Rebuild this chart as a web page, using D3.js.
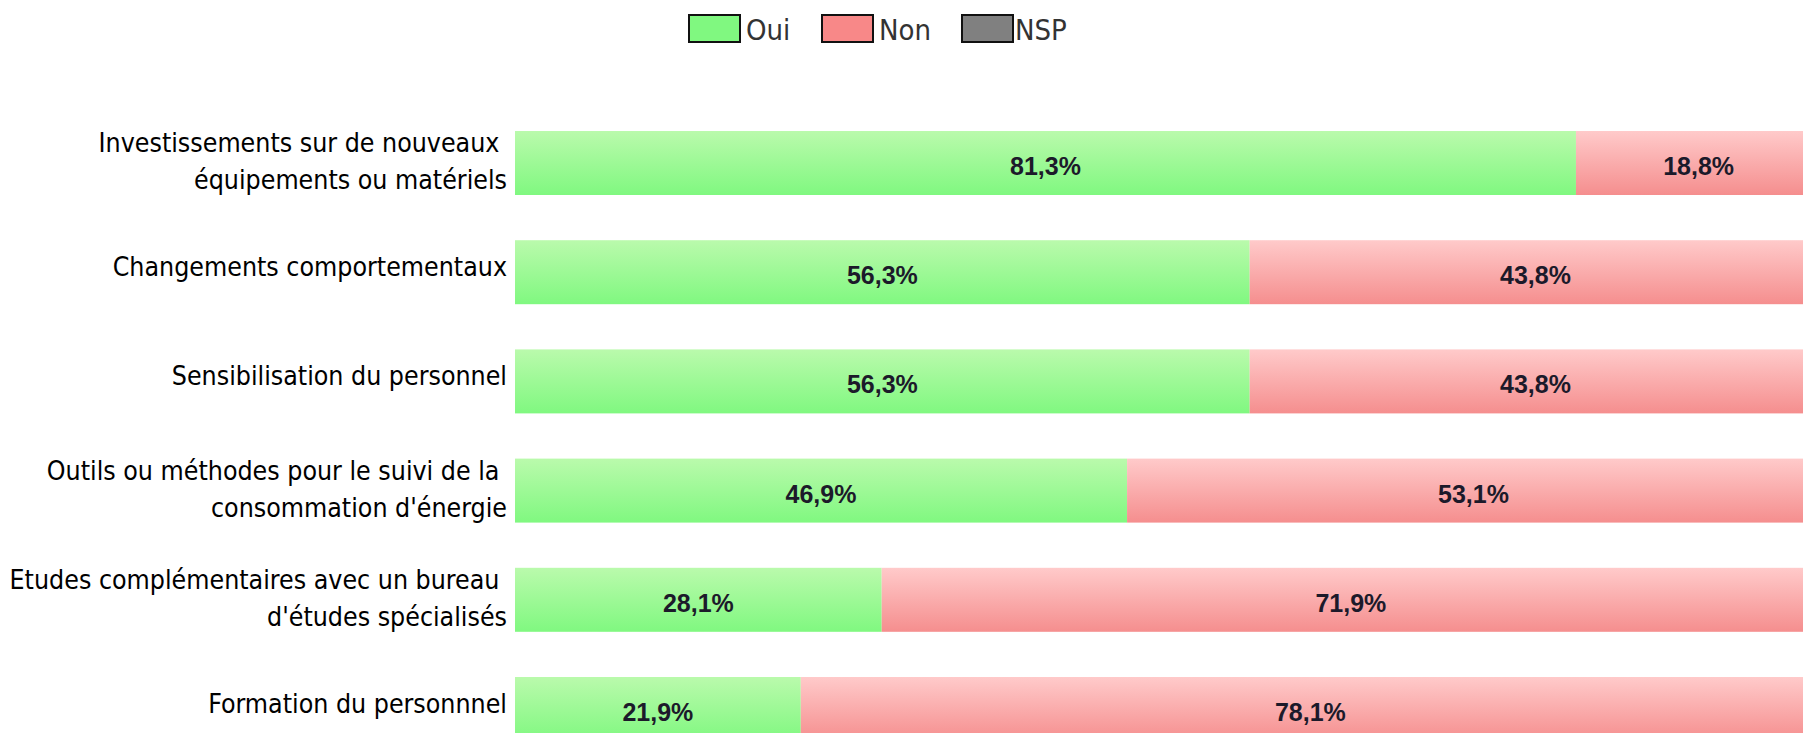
<!DOCTYPE html>
<html lang="fr">
<head>
    <meta charset="UTF-8">
    <title>Actions envisagées</title>
    <script src="https://d3js.org/d3.v7.min.js"></script>
    <style>
        body { margin: 0; background: #fff; }
        svg { display: block; }
    </style>
</head>
<body>
    <svg id="chart" width="1803" height="733"></svg>
    <script>
        // categories (each label split in its display lines)
        const categories = [
            ["Investissements sur de nouveaux ", "équipements ou matériels"],
            ["Changements comportementaux"],
            ["Sensibilisation du personnel"],
            ["Outils ou méthodes pour le suivi de la ", "consommation d'énergie"],
            ["Etudes complémentaires avec un bureau ", "d'études spécialisés"],
            ["Formation du personnnel"]
        ];
        const oui = [81.3, 56.3, 56.3, 46.9, 28.1, 21.9];
        const non = [18.8, 43.8, 43.8, 53.1, 71.9, 78.1];
        const nsp = [0, 0, 0, 0, 0, 0];
        const seriesNames = ["Oui", "Non", "NSP"];

        const svg = d3.select("#chart");
        const colors = { Oui: "#80f880", Non: "#f88888", NSP: "#808080" };

        const defs = svg.append("defs");
        const grads = {
            Oui: ["#bafaac", "#80f880"],
            Non: ["#ffcaca", "#f58e8e"],
            NSP: ["#a8a8a8", "#808080"]
        };
        Object.keys(grads).forEach(k => {
            const g = defs.append("linearGradient")
                .attr("id", "grad-" + k)
                .attr("x1", 0).attr("y1", 0).attr("x2", 0).attr("y2", 1);
            g.append("stop").attr("offset", "0%").attr("stop-color", grads[k][0]);
            g.append("stop").attr("offset", "100%").attr("stop-color", grads[k][1]);
        });

        const rows = categories.map((c, i) => ({
            key: c.join(" "),
            lines: c,
            values: { Oui: oui[i], Non: non[i], NSP: nsp[i] }
        }));

        const y = d3.scaleBand()
            .domain(rows.map(d => d.key))
            .range([108.4, 763.6])
            .paddingInner(0.414)
            .paddingOuter(0.207);

        const x = d3.scaleLinear()
            .domain([0, 100])
            .range([515, 1820]);

        // stacked segments
        const stack = d3.stack()
            .keys(seriesNames)
            .value((d, k) => d.values[k]);
        const layers = stack(rows);

        const layerG = svg.append("g").selectAll("g")
            .data(layers)
            .enter().append("g")
            .attr("fill", d => `url(#grad-${d.key})`);

        layerG.selectAll("rect")
            .data(d => d.map(s => ({ s: s, key: d.key })))
            .enter().append("rect")
            .attr("x", d => x(d.s[0]))
            .attr("y", d => y(d.s.data.key))
            .attr("width", d => x(d.s[1]) - x(d.s[0]))
            .attr("height", y.bandwidth());

        // value labels
        layerG.selectAll("text")
            .data(d => d.filter(s => s[1] - s[0] > 0).map(s => ({ s: s, key: d.key })))
            .enter().append("text")
            .attr("x", d => (x(d.s[0]) + x(d.s[1])) / 2)
            .attr("y", d => y(d.s.data.key) + y.bandwidth() / 2 + 12)
            .attr("text-anchor", "middle")
            .attr("fill", "#1c1a2a")
            .style("font-family", "'Liberation Sans', Arial, sans-serif")
            .style("font-weight", "bold")
            .style("font-size", "25px")
            .text(d => d3.format(".1f")(d.s.data.values[d.key]).replace(".", ",") + "%");

        // category labels
        const labelG = svg.append("g")
            .style("font-family", "'DejaVu Sans Condensed', 'DejaVu Sans', sans-serif")
            .style("font-size", "26.5px")
            .attr("fill", "#000");

        labelG.selectAll("text")
            .data(rows)
            .enter().append("text")
            .attr("text-anchor", "end")
            .attr("y", d => y(d.key) + y.bandwidth() / 2)
            .each(function (d) {
                const t = d3.select(this);
                const n = d.lines.length;
                d.lines.forEach((line, i) => {
                    t.append("tspan")
                        .attr("x", 507)
                        .attr("dy", i === 0 ? (n === 1 ? 4 : -11) : 37)
                        .style("white-space", "pre")
                        .text(line);
                });
            });

        // legend
        const legend = svg.append("g")
            .style("font-family", "'DejaVu Sans Condensed', 'DejaVu Sans', sans-serif")
            .style("font-size", "29px")
            .attr("fill", "#333");
        const legendX = [689, 822, 962];
        seriesNames.forEach((name, i) => {
            const g = legend.append("g").attr("transform", `translate(${legendX[i]},15)`);
            g.append("rect")
                .attr("width", 51).attr("height", 27)
                .attr("fill", colors[name])
                .attr("stroke", "#111").attr("stroke-width", 2);
            g.append("text")
                .attr("x", i === 2 ? 53 : 57).attr("y", 25)
                .text(name);
        });
    </script>
</body>
</html>
